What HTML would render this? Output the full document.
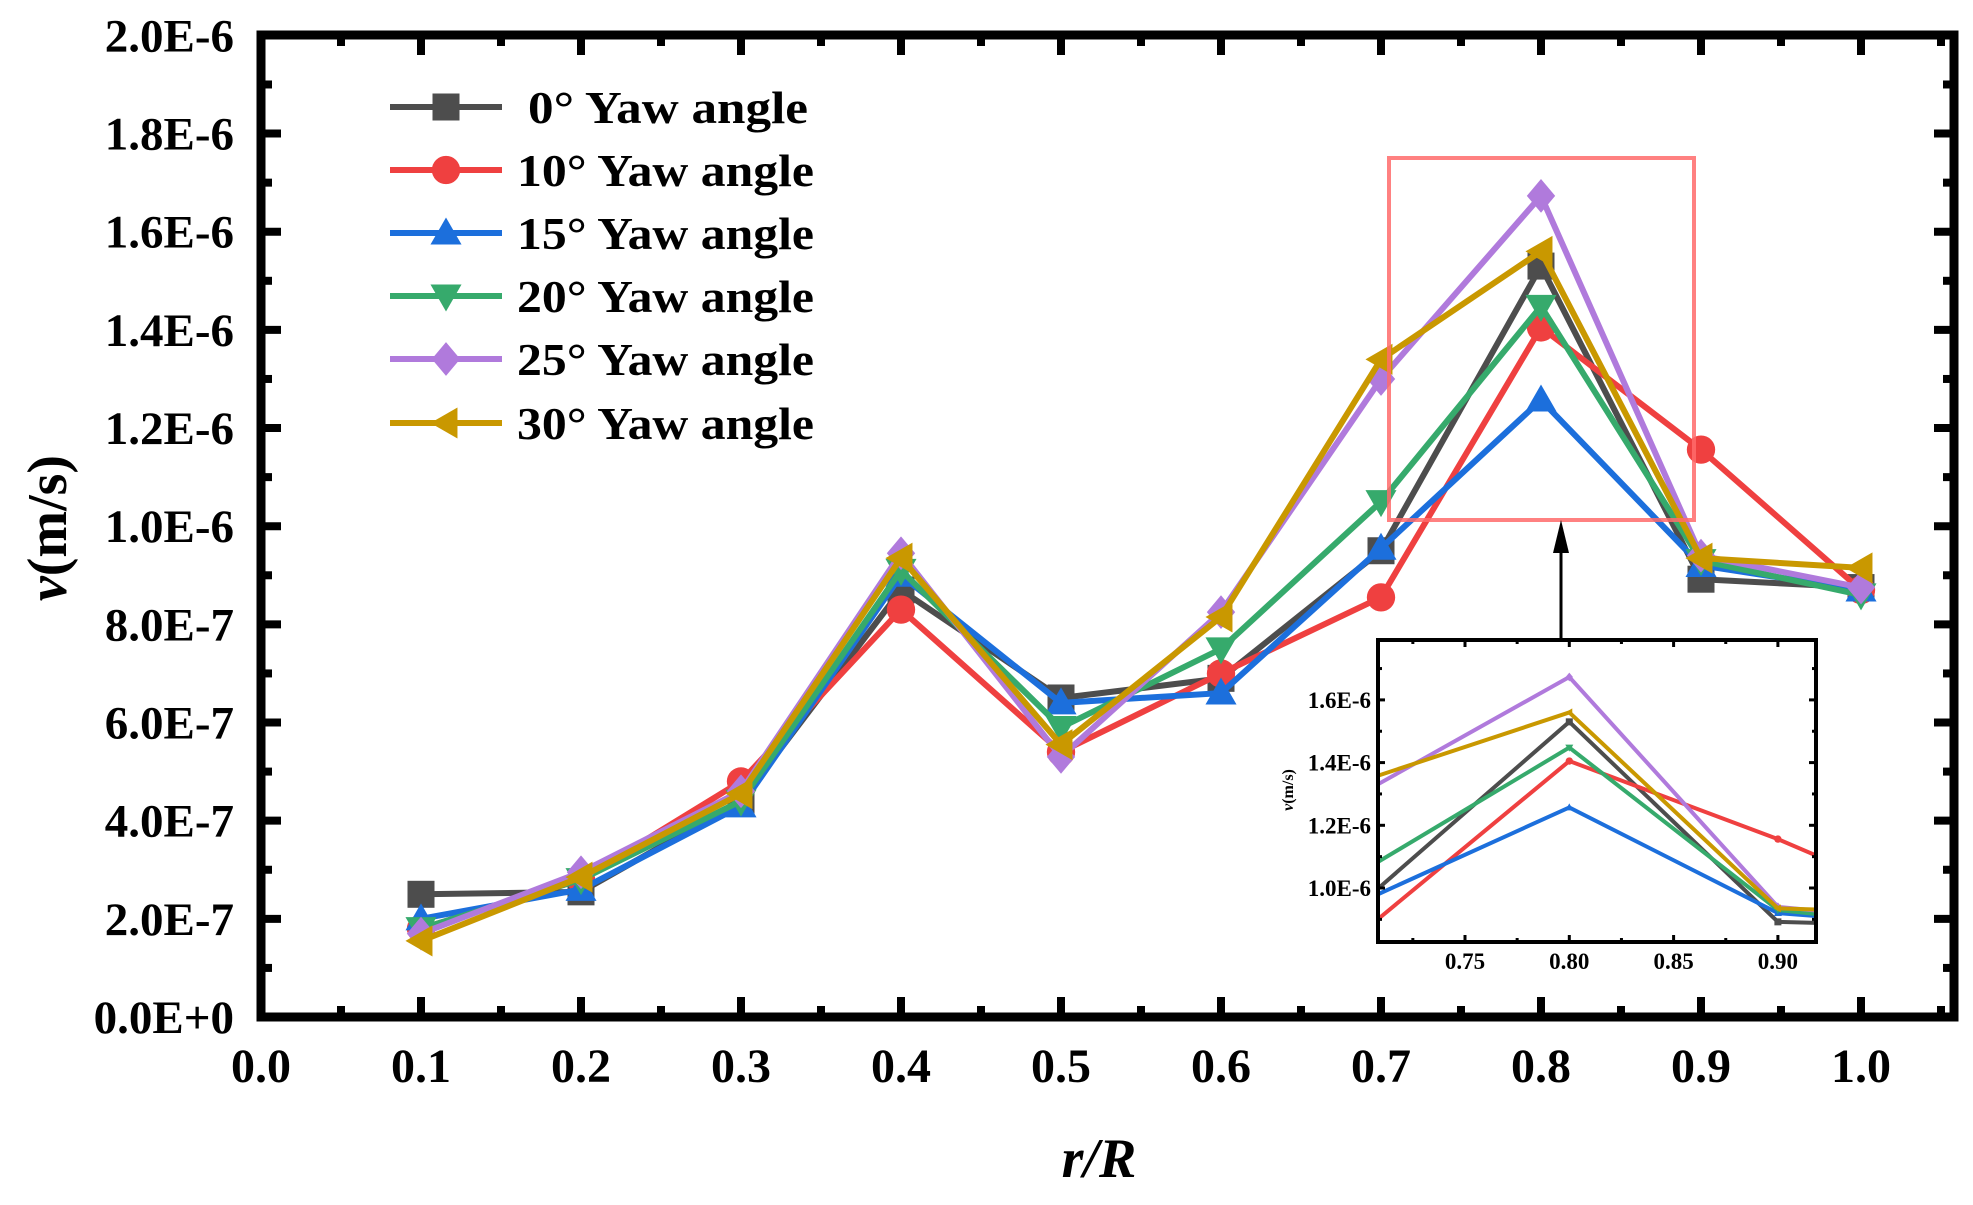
<!DOCTYPE html>
<html><head><meta charset="utf-8"><style>
html,body{margin:0;padding:0;background:#fff;}
svg{display:block;}
text{font-family:"Liberation Serif",serif;font-weight:bold;fill:#000;}
</style></head><body>
<svg id="chart" width="1973" height="1205" viewBox="0 0 1973 1205" xmlns="http://www.w3.org/2000/svg">
<rect x="0" y="0" width="1973" height="1205" fill="#fff"/>
<g id="grid-main"></g>
<g id="inset"></g>
<g id="legend"></g>
<text transform="translate(66,528) rotate(-90)" text-anchor="middle" font-size="56"><tspan font-style="italic">v</tspan>(m/s)</text>
<text x="1099" y="1177" text-anchor="middle" font-size="56" font-style="italic">r/R</text>
</svg>
<script>
const categories=[0.1,0.2,0.3,0.4,0.5,0.6,0.7,0.8,0.9,1.0];
const seriesNames=["0° Yaw angle","10° Yaw angle","15° Yaw angle","20° Yaw angle","25° Yaw angle","30° Yaw angle"];
const yaw0=[0.25,0.255,0.44,0.87,0.65,0.69,0.95,1.53,0.892,0.875];
const yaw10=[0.18,0.28,0.48,0.83,0.54,0.70,0.855,1.405,1.156,0.87];
const yaw15=[0.20,0.26,0.43,0.90,0.64,0.66,0.955,1.257,0.92,0.87];
const yaw20=[0.18,0.28,0.44,0.91,0.59,0.75,1.05,1.448,0.93,0.86];
const yaw25=[0.17,0.295,0.46,0.945,0.53,0.825,1.30,1.673,0.94,0.875];
const yaw30=[0.155,0.285,0.455,0.935,0.555,0.815,1.34,1.56,0.935,0.915];
const xTickLabels=["0.0","0.1","0.2","0.3","0.4","0.5","0.6","0.7","0.8","0.9","1.0"];
const yTickLabels=["0.0E+0","2.0E-7","4.0E-7","6.0E-7","8.0E-7","1.0E-6","1.2E-6","1.4E-6","1.6E-6","1.8E-6","2.0E-6"];
const insetXTickLabels=["0.75","0.80","0.85","0.90"];
const insetYTickLabels=["1.0E-6","1.2E-6","1.4E-6","1.6E-6"];

const NS="http://www.w3.org/2000/svg";
const colors=["#4d4d4d","#ef4040","#1c6fdc","#36aa6c","#b07adc","#c99800"];
const markers=["square","circle","up","down","diamond","left"];
const allSeries=[yaw0,yaw10,yaw15,yaw20,yaw25,yaw30];
function mk(tag,attrs,parent){const e=document.createElementNS(NS,tag);for(const k in attrs)e.setAttribute(k,attrs[k]);parent.appendChild(e);return e;}
const L=261,R=1954,T=35,B=1017;
const xs=v=>L+v*1600;
const ys=v=>B-v*490.8;
const g=document.getElementById('grid-main');
for(let i=0;i<=21;i++){const v=i*0.05;const x=xs(v);if(x>R)break;const len=i%2==0?20:11;
 let t=mk('line',{x1:x,y1:B,x2:x,y2:B-len,stroke:'#000','stroke-width':8},g);
 
 t=mk('line',{x1:x,y1:T,x2:x,y2:T+len,stroke:'#000','stroke-width':8},g);
 }
for(let i=0;i<=20;i++){const y=ys(i*0.1);const len=i%2==0?20:11;
 let t=mk('line',{x1:L,y1:y,x2:L+len,y2:y,stroke:'#000','stroke-width':8},g);
 
 t=mk('line',{x1:R,y1:y,x2:R-len,y2:y,stroke:'#000','stroke-width':8},g);
 }
xTickLabels.forEach((s,i)=>{const t=mk('text',{x:xs(i*0.1),y:1082,'text-anchor':'middle','font-size':48},g);t.textContent=s;
 });
yTickLabels.forEach((s,i)=>{const t=mk('text',{x:234,y:ys(i*0.2)+16,'text-anchor':'end','font-size':47},g);t.textContent=s;
 });
function marker(type,cx,cy,s,color,parent){
 const h=s/2;let e;
 if(type=='square')e=mk('rect',{x:cx-h,y:cy-h,width:s,height:s,fill:color},parent);
 else if(type=='circle')e=mk('circle',{cx:cx,cy:cy,r:h*1.05,fill:color},parent);
 else{let p;
  if(type=='up')p=[[cx,cy-h*1.15],[cx+h*1.15,cy+h*0.85],[cx-h*1.15,cy+h*0.85]];
  else if(type=='down')p=[[cx,cy+h*1.15],[cx+h*1.15,cy-h*0.85],[cx-h*1.15,cy-h*0.85]];
  else if(type=='diamond')p=[[cx,cy-h*1.25],[cx+h*1.05,cy],[cx,cy+h*1.25],[cx-h*1.05,cy]];
  else p=[[cx-h*1.15,cy],[cx+h*0.85,cy-h*1.15],[cx+h*0.85,cy+h*1.15]];
  e=mk('polygon',{points:p.map(q=>q.join(',')).join(' '),fill:color},parent);}
 return e;}
allSeries.forEach((d,si)=>{
 const sg=mk('g',{},g);
 
 
 const pts=d.map((v,i)=>xs(categories[i])+','+ys(v)).join(' ');
 const pl=mk('polyline',{points:pts,fill:'none',stroke:colors[si],'stroke-width':6,'stroke-linejoin':'miter'},sg);
 
 d.forEach((v,i)=>{const m=marker(markers[si],xs(categories[i]),ys(v),27,colors[si],sg);
  });
});
const fr=mk('rect',{x:L,y:T,width:R-L,height:B-T,fill:'none',stroke:'#000','stroke-width':9},g);

const zr=mk('rect',{x:1389,y:158,width:305,height:362,fill:'none',stroke:'#ff6b6b','stroke-width':4,opacity:0.85},g);

const al=mk('line',{x1:1561,y1:640,x2:1561,y2:545,stroke:'#000','stroke-width':3},g);

const ah=mk('polygon',{points:'1561,520 1553,553 1569,553',fill:'#000'},g);

const ig=document.getElementById('inset');
const IL=1378,IR=1816,IT=640,IB=942;
const ixs=v=>1465+(v-0.75)*2086;
const iys=v=>888-(v-1.0)*313.5;
mk('rect',{x:IL,y:IT,width:IR-IL,height:IB-IT,fill:'#fff'},ig);
const clip=mk('clipPath',{id:'ic'},ig);mk('rect',{x:IL,y:IT,width:IR-IL,height:IB-IT},clip);
const ic=mk('g',{'clip-path':'url(#ic)'},ig);
allSeries.forEach((d,si)=>{
 const pts=d.map((v,i)=>ixs(categories[i])+','+iys(v)).join(' ');
 const pl=mk('polyline',{points:pts,fill:'none',stroke:colors[si],'stroke-width':4},ic);
 
 d.forEach((v,i)=>{const m=marker(markers[si],ixs(categories[i]),iys(v),7,colors[si],ic);
  });
});
for(let i=0;i<9;i++){const v=0.70+i*0.025;const x=ixs(v);if(x<IL+2||x>IR-2)continue;const len=i%2==0?7:4;
 let t=mk('line',{x1:x,y1:IB,x2:x,y2:IB-len,stroke:'#000','stroke-width':3},ig);
 
 t=mk('line',{x1:x,y1:IT,x2:x,y2:IT+len,stroke:'#000','stroke-width':3},ig);
 }
for(let i=0;i<10;i++){const v=0.8+i*0.1;const y=iys(v);if(y>IB-2||y<IT+2)continue;const len=i%2==0?7:4;
 let t=mk('line',{x1:IL,y1:y,x2:IL+len,y2:y,stroke:'#000','stroke-width':3},ig);
 
 t=mk('line',{x1:IR,y1:y,x2:IR-len,y2:y,stroke:'#000','stroke-width':3},ig);
 }
const ifr=mk('rect',{x:IL,y:IT,width:IR-IL,height:IB-IT,fill:'none',stroke:'#000','stroke-width':4},ig);

insetXTickLabels.forEach((s,i)=>{const t=mk('text',{x:ixs(0.75+i*0.05),y:969,'text-anchor':'middle','font-size':23},ig);t.textContent=s;
 });
insetYTickLabels.forEach((s,i)=>{const t=mk('text',{x:1371,y:iys(1.0+i*0.2)+8,'text-anchor':'end','font-size':23},ig);t.textContent=s;
 });
const iyt=mk('text',{transform:'translate(1293,790) rotate(-90)','text-anchor':'middle','font-size':16,'font-weight':'normal'},ig);
iyt.innerHTML='<tspan font-style="italic">v</tspan>(m/s)';

const lg=document.getElementById('legend');
const rowY=[107,170,233,296,359,423];
seriesNames.forEach((n,si)=>{
 const eg=mk('g',{},lg);
 
 mk('line',{x1:390,y1:rowY[si],x2:502,y2:rowY[si],stroke:colors[si],'stroke-width':6},eg);
 marker(markers[si],446,rowY[si],27,colors[si],eg);
 const t=mk('text',{x:si==0?528:517,y:rowY[si]+16,'font-size':46,textLength:si==0?280:297,lengthAdjust:'spacingAndGlyphs'},eg);
 t.textContent=n;
});
</script>
</body></html>
